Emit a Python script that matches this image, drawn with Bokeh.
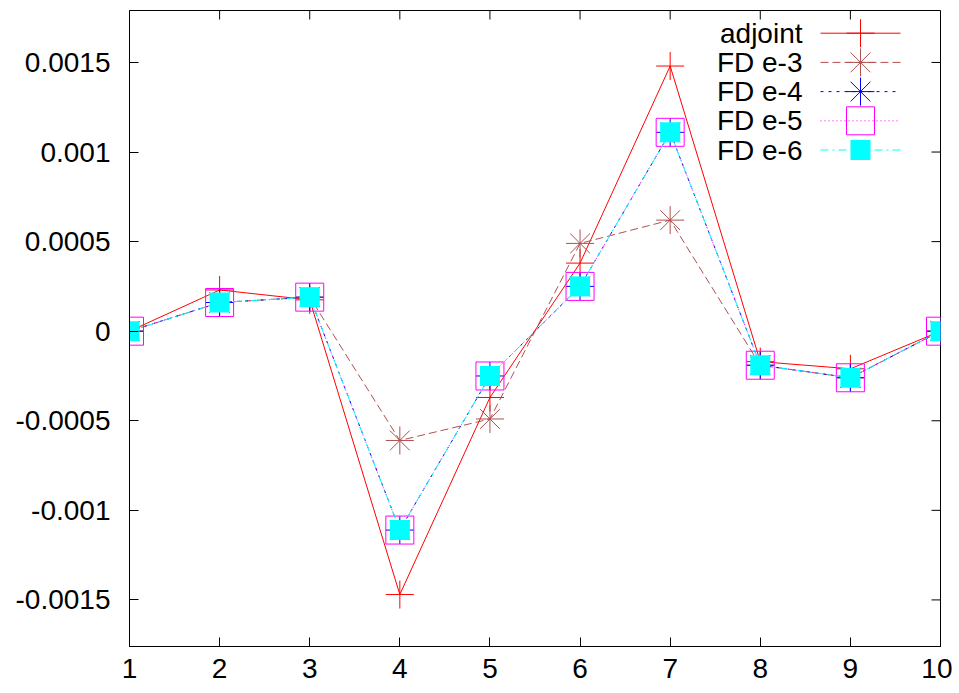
from bokeh.plotting import figure
from bokeh.models import Range1d, FixedTicker, Label
from bokeh.embed import file_html
from bokeh.resources import INLINE

# ---- data ----
x_vals = [1, 2, 3, 4, 5, 6, 7, 8, 9, 10]
adjoint = [0.0, 0.00023, 0.000175, -0.00147, -0.00037, 0.00038, 0.00148, -0.00017, -0.00021, 0.0]
fd_e3 = [0.0, 0.00016, 0.00019, -0.00061, -0.00049, 0.00049, 0.00062, -0.00019, -0.00026, 0.0]
fd_e4 = [0.0, 0.00016, 0.00019, -0.00111, -0.00025, 0.00025, 0.00111, -0.00019, -0.00026, 0.0]
fd_e5 = [0.0, 0.00016, 0.00019, -0.00111, -0.00025, 0.00025, 0.00111, -0.00019, -0.00026, 0.0]
fd_e6 = [0.0, 0.00016, 0.00019, -0.00111, -0.00025, 0.00025, 0.00111, -0.00019, -0.00026, 0.0]
series_names = ["adjoint", "FD e-3", "FD e-4", "FD e-5", "FD e-6"]
x_ticks = [1, 2, 3, 4, 5, 6, 7, 8, 9, 10]
y_ticks = [-0.0015, -0.001, -0.0005, 0.0, 0.0005, 0.001, 0.0015]
y_tick_labels = ["-0.0015", "-0.001", "-0.0005", "0", "0.0005", "0.001", "0.0015"]

FONT = "Liberation Sans"
FS = "28px"
FRAME_W, FRAME_H = 811, 636
TICK = 9

p = figure(frame_width=FRAME_W, frame_height=FRAME_H, output_backend="svg", toolbar_location=None,
           x_range=Range1d(1, 10), y_range=Range1d(-0.00176, 0.00179),
           min_border_left=129, min_border_right=12, min_border_top=10, min_border_bottom=44)
p.grid.visible = False
p.outline_line_color = "black"
p.outline_line_width = 1
p.background_fill_color = "white"
p.border_fill_color = "white"

for ax in (p.xaxis[0], p.yaxis[0]):
    ax.major_tick_in = TICK
    ax.major_tick_out = 0
    ax.minor_tick_in = 0
    ax.minor_tick_out = 0
    ax.axis_line_color = "black"
    ax.major_tick_line_color = "black"
    ax.major_label_text_font = FONT
    ax.major_label_text_font_size = FS
    ax.major_label_text_color = "black"

p.xaxis.ticker = FixedTicker(ticks=x_ticks)
p.xaxis.major_label_standoff = 12
p.yaxis.ticker = FixedTicker(ticks=y_ticks)
p.yaxis.major_label_overrides = {t: l for t, l in zip(y_ticks, y_tick_labels)}
p.yaxis.major_label_standoff = 19

# pixel ranges for mirrored ticks and the key (gnuplot style)
p.extra_x_ranges = {"px": Range1d(0, FRAME_W)}
p.extra_y_ranges = {"px": Range1d(0, FRAME_H)}

# mirrored ticks on the right and top edges
p.segment(x0=[FRAME_W - TICK] * len(y_ticks), y0=y_ticks, x1=[FRAME_W] * len(y_ticks), y1=y_ticks,
          line_color="black", line_width=1, x_range_name="px")
p.segment(x0=x_ticks, y0=[FRAME_H - TICK] * len(x_ticks), x1=x_ticks, y1=[FRAME_H] * len(x_ticks),
          line_color="black", line_width=1, y_range_name="px")

styles = [
    dict(y=adjoint, color="#ff0000", dash="solid", marker="cross", size=28, fill=None),
    dict(y=fd_e3, color="#b05050", dash="8 4", marker="asterisk", size=28, fill=None),
    dict(y=fd_e4, color="#0000ff", dash="3 5", marker="asterisk", size=28, fill=None),
    dict(y=fd_e5, color="#ff00ff", dash="1 3", marker="square", size=28, fill=None),
    dict(y=fd_e6, color="#00ffff", dash="8 4 2 4", marker="square", size=20, fill="#00ffff"),
]

KEY_TOP, KEY_ROW = 22.7, 29.2
KEY_X0, KEY_X1, KEY_TEXT_R = FRAME_W - 120, FRAME_W - 40, FRAME_W - 138


def draw_marker(xs, ys, st, **kw):
    if st["fill"] is None:
        p.scatter(xs, ys, marker=st["marker"], size=st["size"],
                  line_color=st["color"], line_width=1, fill_alpha=0, **kw)
    else:
        p.scatter(xs, ys, marker=st["marker"], size=st["size"],
                  line_color=None, fill_color=st["fill"], **kw)


for i, (name, st) in enumerate(zip(series_names, styles)):
    p.line(x_vals, st["y"], line_color=st["color"], line_width=1, line_dash=st["dash"])
    draw_marker(x_vals, st["y"], st)

    ky = FRAME_H - KEY_TOP - KEY_ROW * i
    p.segment(x0=[KEY_X0], y0=[ky], x1=[KEY_X1], y1=[ky], line_color=st["color"], line_width=1,
              line_dash=st["dash"], x_range_name="px", y_range_name="px")
    draw_marker([(KEY_X0 + KEY_X1) / 2], [ky], st, x_range_name="px", y_range_name="px")
    p.add_layout(Label(x=KEY_TEXT_R, y=ky, x_units="screen", y_units="screen", text=name,
                       text_align="right", text_baseline="middle",
                       text_font=FONT, text_font_size=FS, text_color="black"))

open("out.html", "w").write(file_html(p, INLINE))
